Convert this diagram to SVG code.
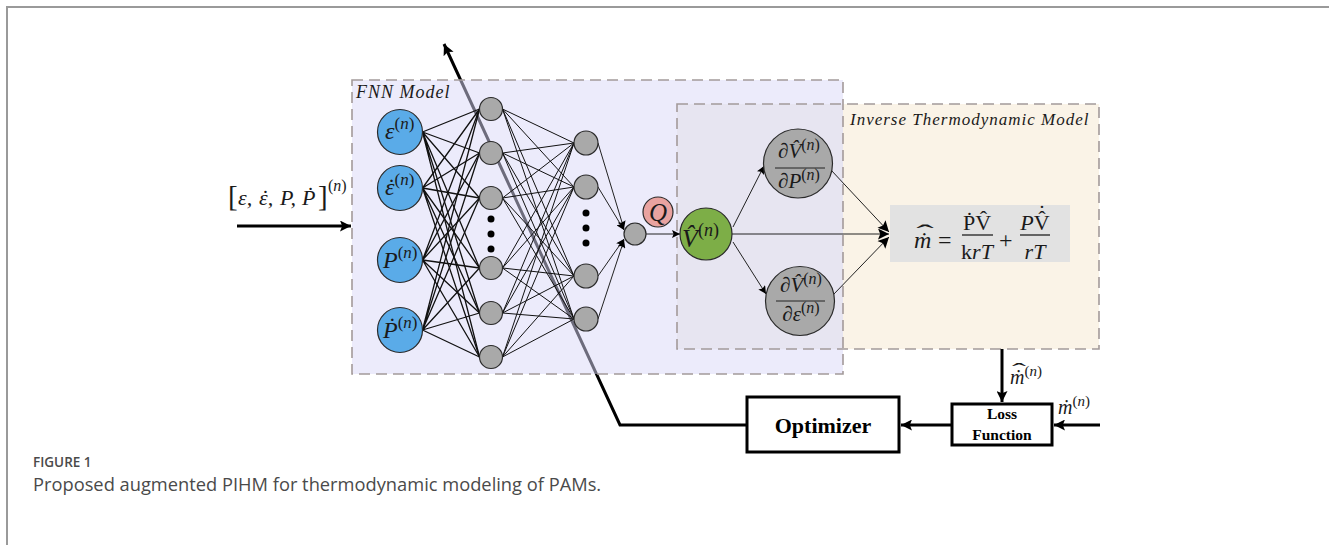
<svg xmlns="http://www.w3.org/2000/svg" width="1329" height="545" viewBox="0 0 1329 545">
  <defs>
    <style>
      .frame { stroke: #9a9a9a; stroke-width: 2; fill: none; }
      .dash { fill: none; stroke: #a39a9a; stroke-width: 1.6; stroke-dasharray: 11 6; }
      .wire { stroke: #111; stroke-width: 1.3; fill: none; }
      .wire2 { stroke: #111; stroke-width: 1; fill: none; }
      .thin { stroke: #222; stroke-width: 1; fill: none; }
      .thick { stroke: #000; stroke-width: 3; fill: none; }
      .in { fill: #5aabe8; stroke: #2a2a2a; stroke-width: 1.2; }
      .hid { fill: #a9a9a9; stroke: #2a2a2a; stroke-width: 1.2; }
      .dot { fill: #000; }
      .m { font-family: "Liberation Serif", "DejaVu Serif", serif; font-style: italic; fill: #1a1a1a; }
      .up { font-style: normal; }
      .acc { font-family: "Liberation Serif", "DejaVu Serif", serif; font-style: normal; fill: #1a1a1a; text-anchor: middle; }
      .lbl { font-family: "Liberation Serif", "DejaVu Serif", serif; font-style: italic; fill: #1a1a1a; letter-spacing: 1px; }
      .bold { font-family: "Liberation Serif", serif; font-weight: bold; fill: #000; text-anchor: middle; }
      .cap { font-family: "Open Sans", "Liberation Sans", sans-serif; fill: #4a4a4a; }
    </style>
    <marker id="ah" viewBox="0 0 10 10" refX="10" refY="5" markerWidth="10" markerHeight="8" markerUnits="userSpaceOnUse" orient="auto">
      <path d="M0,0 L10,5 L0,10 L2,5 Z" fill="#000"/>
    </marker>
    <marker id="ahb" viewBox="0 0 10 10" refX="10" refY="5" markerWidth="13" markerHeight="11" markerUnits="userSpaceOnUse" orient="auto">
      <path d="M0,0 L10,5 L0,10 L2,5 Z" fill="#000"/>
    </marker>
  </defs>

  <!-- page frame -->
  <path class="frame" d="M7,545 V7 H1329"/>

  <!-- feedback path from the optimizer back to the network -->
  <g id="feedback">
    <path class="thick" d="M746,425 H620 L444,44" marker-end="url(#ahb)"/>
  </g>

  <!-- model regions -->
  <g id="fnn-model">
    <rect x="352" y="80" width="491" height="294" fill="rgb(217,215,247)" fill-opacity="0.5"/>
  </g>
  <g id="inverse-model">
    <rect x="677" y="104" width="422" height="245" fill="#faf3e7"/>
    <rect x="677" y="104" width="166" height="245" fill="#e7e5f1"/>
  </g>
  <rect class="dash" x="352" y="80" width="491" height="294"/>
  <rect class="dash" x="677" y="104" width="422" height="245"/>
  <text class="lbl" x="356" y="98" font-size="18">FNN Model</text>
  <text class="lbl" x="850" y="125" font-size="17">Inverse Thermodynamic Model</text>

  <!-- network connections -->
  <g id="connectors">
    <g class="wire">
      <path d="M422.5,132 L479.5,109 M422.5,132 L479.5,153 M422.5,132 L479.5,198 M422.5,132 L479.5,268 M422.5,132 L479.5,313 M422.5,132 L479.5,357"/>
      <path d="M422.5,188 L479.5,109 M422.5,188 L479.5,153 M422.5,188 L479.5,198 M422.5,188 L479.5,268 M422.5,188 L479.5,313 M422.5,188 L479.5,357"/>
      <path d="M422.5,260 L479.5,109 M422.5,260 L479.5,153 M422.5,260 L479.5,198 M422.5,260 L479.5,268 M422.5,260 L479.5,313 M422.5,260 L479.5,357"/>
      <path d="M422.5,330 L479.5,109 M422.5,330 L479.5,153 M422.5,330 L479.5,198 M422.5,330 L479.5,268 M422.5,330 L479.5,313 M422.5,330 L479.5,357"/>
    </g>
    <g class="wire2">
      <path d="M502.5,109 L574,143 M502.5,109 L574,187 M502.5,109 L574,276 M502.5,109 L574,319"/>
      <path d="M502.5,153 L574,143 M502.5,153 L574,187 M502.5,153 L574,276 M502.5,153 L574,319"/>
      <path d="M502.5,198 L574,143 M502.5,198 L574,187 M502.5,198 L574,276 M502.5,198 L574,319"/>
      <path d="M502.5,268 L574,143 M502.5,268 L574,187 M502.5,268 L574,276 M502.5,268 L574,319"/>
      <path d="M502.5,313 L574,143 M502.5,313 L574,187 M502.5,313 L574,276 M502.5,313 L574,319"/>
      <path d="M502.5,357 L574,143 M502.5,357 L574,187 M502.5,357 L574,276 M502.5,357 L574,319"/>
    </g>
    <g class="thin">
      <path d="M598,143 L624,229" marker-end="url(#ah)"/>
      <path d="M598,187 L624,230" marker-end="url(#ah)"/>
      <path d="M598,276 L624,239" marker-end="url(#ah)"/>
      <path d="M598,319 L624,240" marker-end="url(#ah)"/>
      <path d="M646,234 L680,234" marker-end="url(#ah)"/>
      <path d="M733,227 L764,166" marker-end="url(#ah)"/>
      <path d="M733,242 L766,294" marker-end="url(#ah)"/>
      <path d="M732,234 L889,234" marker-end="url(#ahb)"/>
      <path d="M831,170 L889,232" marker-end="url(#ahb)"/>
      <path d="M833,295 L889,237" marker-end="url(#ahb)"/>
    </g>
    <g>
      <path class="thick" d="M237,226 H351" marker-end="url(#ahb)"/>
      <path class="thick" d="M1002,349 V402" marker-end="url(#ahb)"/>
      <path class="thick" d="M1100,425 H1054" marker-end="url(#ahb)"/>
      <path class="thick" d="M951,425 H901" marker-end="url(#ahb)"/>
    </g>
  </g>

  <!-- input vector label -->
  <g id="input-label">
    <text class="m" y="205" font-size="22"><tspan class="up" x="228" font-size="29" dy="1">[</tspan><tspan x="238" dy="-1">ε,</tspan><tspan x="259">ε,</tspan><tspan x="280">P,</tspan><tspan x="302">Ṗ</tspan><tspan class="up" x="318" font-size="29" dy="1">]</tspan><tspan x="328" dy="-15" font-size="16"><tspan class="up">(</tspan>n<tspan class="up">)</tspan></tspan></text>
    <text class="acc" x="265.5" y="205" font-size="22">˙</text>
  </g>

  <!-- input layer -->
  <g id="in-eps">
    <circle class="in" cx="400" cy="132" r="22.5"/>
    <text class="m" x="385" y="139" font-size="24">ε<tspan dy="-10" font-size="17"><tspan class="up">(</tspan>n<tspan class="up">)</tspan></tspan></text>
  </g>
  <g id="in-epsdot">
    <circle class="in" cx="400" cy="188" r="22.5"/>
    <text class="m" x="385" y="195" font-size="24">ε<tspan dy="-10" font-size="17"><tspan class="up">(</tspan>n<tspan class="up">)</tspan></tspan></text>
    <text class="acc" x="391.5" y="195" font-size="24">˙</text>
  </g>
  <g id="in-p">
    <circle class="in" cx="400" cy="260" r="22.5"/>
    <text class="m" x="383" y="268" font-size="24">P<tspan dy="-10" font-size="17"><tspan class="up">(</tspan>n<tspan class="up">)</tspan></tspan></text>
  </g>
  <g id="in-pdot">
    <circle class="in" cx="400" cy="330" r="22.5"/>
    <text class="m" x="383" y="338" font-size="24">Ṗ<tspan dy="-10" font-size="17"><tspan class="up">(</tspan>n<tspan class="up">)</tspan></tspan></text>
  </g>

  <!-- hidden layer 1 -->
  <g id="h1">
    <circle class="hid" cx="491" cy="109" r="11.5"/>
    <circle class="hid" cx="491" cy="153" r="11.5"/>
    <circle class="hid" cx="491" cy="198" r="11.5"/>
    <circle class="dot" cx="491" cy="219" r="3.5"/>
    <circle class="dot" cx="491" cy="234" r="3.5"/>
    <circle class="dot" cx="491" cy="249" r="3.5"/>
    <circle class="hid" cx="491" cy="268" r="11.5"/>
    <circle class="hid" cx="491" cy="313" r="11.5"/>
    <circle class="hid" cx="491" cy="357" r="11.5"/>
  </g>

  <!-- hidden layer 2 -->
  <g id="h2">
    <circle class="hid" cx="586" cy="143" r="12"/>
    <circle class="hid" cx="586" cy="187" r="12"/>
    <circle class="dot" cx="586" cy="213" r="3.5"/>
    <circle class="dot" cx="586" cy="228" r="3.5"/>
    <circle class="dot" cx="586" cy="243" r="3.5"/>
    <circle class="hid" cx="586" cy="276" r="12"/>
    <circle class="hid" cx="586" cy="319" r="12"/>
  </g>

  <!-- output neuron and Q -->
  <g id="out">
    <circle class="hid" cx="635" cy="234" r="11"/>
  </g>
  <g id="q">
    <circle cx="658" cy="212" r="15" fill="#e9a3a0" stroke="#2a2a2a" stroke-width="1.2"/>
    <text class="m" x="658" y="221" font-size="25" text-anchor="middle">Q</text>
  </g>

  <!-- volume estimate -->
  <g id="vhat">
    <circle cx="706" cy="234" r="26" fill="#7dae47" stroke="#2a2a2a" stroke-width="1.2"/>
    <text class="m" x="682" y="247" font-size="26">V̂<tspan dy="-11" font-size="18"><tspan class="up">(</tspan>n<tspan class="up">)</tspan></tspan></text>
  </g>

  <!-- partial derivatives -->
  <g id="dvdp">
    <circle class="hid" cx="798" cy="163.5" r="34.5"/>
    <text class="m" x="799" y="158" font-size="21" text-anchor="middle"><tspan class="up">∂</tspan>V̂<tspan dy="-8" font-size="16"><tspan class="up">(</tspan>n<tspan class="up">)</tspan></tspan></text>
    <line x1="775" y1="168" x2="825" y2="168" stroke="#222" stroke-width="1"/>
    <text class="m" x="799" y="188" font-size="21" text-anchor="middle"><tspan class="up">∂</tspan>P<tspan dy="-8" font-size="16"><tspan class="up">(</tspan>n<tspan class="up">)</tspan></tspan></text>
  </g>
  <g id="dvde">
    <circle class="hid" cx="800" cy="301" r="34.5"/>
    <text class="m" x="801" y="292" font-size="21" text-anchor="middle"><tspan class="up">∂</tspan>V̂<tspan dy="-8" font-size="16"><tspan class="up">(</tspan>n<tspan class="up">)</tspan></tspan></text>
    <line x1="776" y1="301" x2="825" y2="301" stroke="#222" stroke-width="1"/>
    <text class="m" x="801" y="321" font-size="21" text-anchor="middle"><tspan class="up">∂</tspan>ε<tspan dy="-8" font-size="16"><tspan class="up">(</tspan>n<tspan class="up">)</tspan></tspan></text>
  </g>

  <!-- mass flow equation -->
  <g id="equation">
    <rect x="890" y="205" width="180" height="57" fill="#e2e2e2"/>
    <text class="m" x="914" y="248" font-size="24">ṁ</text>
    <text class="acc" font-size="24" transform="translate(925,241) scale(2.2,1)">ˆ</text>
    <text class="m up" x="938" y="248" font-size="24">=</text>
    <text class="m up" x="977" y="230" font-size="22" text-anchor="middle">ṖV̂</text>
    <line x1="962" y1="235" x2="993" y2="235" stroke="#111" stroke-width="1.2"/>
    <text class="m" x="977" y="259" font-size="22" text-anchor="middle"><tspan class="up">k</tspan>rT</text>
    <text class="m up" x="999" y="248" font-size="24">+</text>
    <text class="m" x="1035" y="230" font-size="22" text-anchor="middle">P<tspan class="up">V̂</tspan></text>
    <text class="acc" x="1042" y="220" font-size="22">˙</text>
    <line x1="1020" y1="235" x2="1050" y2="235" stroke="#111" stroke-width="1.2"/>
    <text class="m" x="1035" y="259" font-size="22" text-anchor="middle">rT</text>
  </g>

  <!-- training loop -->
  <g id="mhat-label">
    <text class="m" x="1010" y="384" font-size="20">ṁ<tspan dy="-8" font-size="15"><tspan class="up">(</tspan>n<tspan class="up">)</tspan></tspan></text>
    <text class="acc" font-size="20" transform="translate(1019,378) scale(2.1,1)">ˆ</text>
  </g>
  <text class="m" x="1058" y="414" font-size="20">ṁ<tspan dy="-8" font-size="15"><tspan class="up">(</tspan>n<tspan class="up">)</tspan></tspan></text>
  <g id="loss">
    <rect x="952" y="404" width="100" height="41" fill="#fff" stroke="#000" stroke-width="3"/>
    <text class="bold" x="1002" y="419" font-size="15.5">Loss</text>
    <text class="bold" x="1002" y="440" font-size="15.5">Function</text>
  </g>
  <g id="optimizer">
    <rect x="747" y="397" width="152" height="55" fill="#fff" stroke="#000" stroke-width="3"/>
    <text class="bold" x="823" y="433" font-size="22">Optimizer</text>
  </g>

  <!-- caption -->
  <text class="cap" x="33" y="467" font-size="13.5" font-weight="600" fill="#555">FIGURE 1</text>
  <text class="cap" x="33" y="491" font-size="18.3">Proposed augmented PIHM for thermodynamic modeling of PAMs.</text>
</svg>
